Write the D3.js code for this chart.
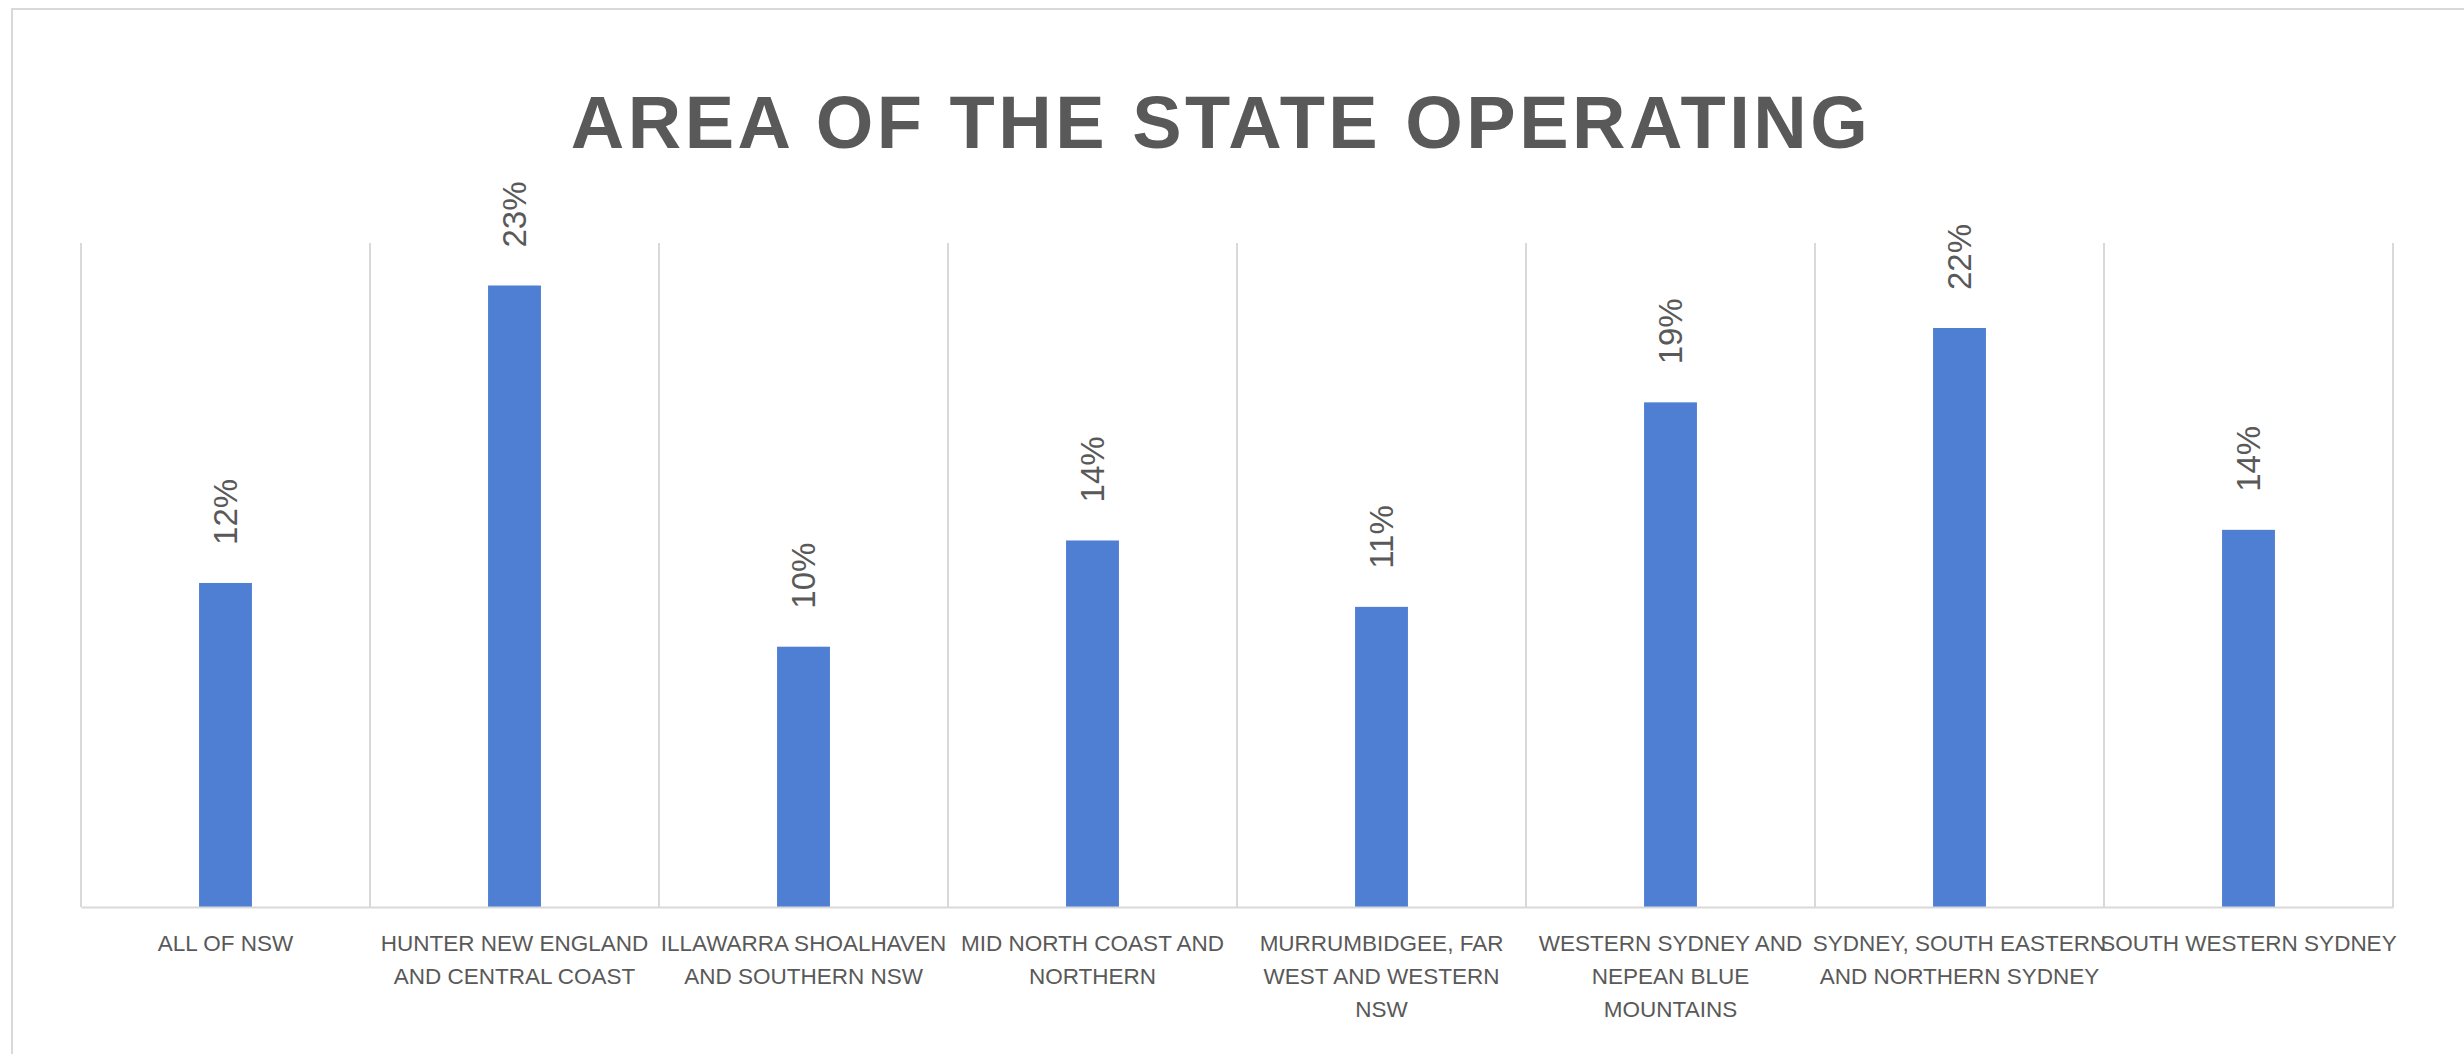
<!DOCTYPE html>
<html>
<head>
<meta charset="utf-8">
<script src="https://cdn.jsdelivr.net/npm/d3@7"></script>
<style>
  body { margin: 0; background: #fff; }
  text { font-family: "Liberation Sans", Arial, sans-serif; fill: #595959; }
</style>
</head>
<body>
<script>
// categories (line breaks as they wrap in the original)
var categorias = [
  'ALL OF NSW',
  'HUNTER NEW ENGLAND\nAND CENTRAL COAST',
  'ILLAWARRA SHOALHAVEN\nAND SOUTHERN NSW',
  'MID NORTH COAST AND\nNORTHERN',
  'MURRUMBIDGEE, FAR\nWEST AND WESTERN\nNSW',
  'WESTERN SYDNEY AND\nNEPEAN BLUE\nMOUNTAINS',
  'SYDNEY, SOUTH EASTERN\nAND NORTHERN SYDNEY',
  'SOUTH WESTERN SYDNEY'
]
var valores = [0.122, 0.234, 0.098, 0.138, 0.113, 0.190, 0.218, 0.142]
var titulo = 'AREA OF THE STATE OPERATING'

var width = 2464,
	height = 1054,
	margin = {top:243, left:81, right:71, bottom:147};

var svg = d3.select('body')
	.append('svg')
	.attr('width',width)
	.attr('height',height)

// chart frame
svg.append('rect')
	.attr('x',12)
	.attr('y',9)
	.attr('width',width)
	.attr('height',height)
	.attr('fill','none')
	.attr('stroke','#d9d9d9')
	.attr('stroke-width',2)

var escalaX = d3.scaleBand()
	.domain(categorias)
	.range([margin.left,width-margin.right])

var escalaY = d3.scaleLinear()
	.domain([0,0.25])
	.range([height-margin.bottom,margin.top])

// vertical category gridlines
var bordes = categorias.map(d=>escalaX(d)).concat([escalaX.range()[1]])
svg.append('g')
	.selectAll('line')
	.data(bordes).enter()
	.append('line')
	.attr('x1',d=>d)
	.attr('x2',d=>d)
	.attr('y1',escalaY.range()[1])
	.attr('y2',escalaY.range()[0])
	.attr('stroke','#d9d9d9')
	.attr('stroke-width',2)

// bars
var anchoBarra = escalaX.bandwidth()*0.183
svg.append('g')
	.selectAll('rect')
	.data(valores).enter()
	.append('rect')
	.attr('x',(d,i)=>escalaX(categorias[i])+escalaX.bandwidth()/2-anchoBarra/2)
	.attr('width',anchoBarra)
	.attr('y',d=>escalaY(d))
	.attr('height',d=>escalaY(0)-escalaY(d))
	.attr('fill','#4e7fd3')

// value labels, rotated
var fmt = d3.format('.0%')
svg.append('g')
	.selectAll('text')
	.data(valores).enter()
	.append('text')
	.attr('transform',(d,i)=>'translate('+(escalaX(categorias[i])+escalaX.bandwidth()/2)+','+(escalaY(d)-38)+') rotate(-90)')
	.attr('dy','0.36em')
	.attr('font-size',33)
	.text(d=>fmt(d))

// x axis
var ejeX = d3.axisBottom(escalaX).tickSize(0).tickSizeOuter(0)
var gx = svg.append('g')
	.attr('transform','translate(0,'+escalaY.range()[0]+')')
	.call(ejeX)
gx.select('.domain').attr('stroke','#d9d9d9').attr('stroke-width',2)
gx.selectAll('.tick text').each(function(d){
	var t = d3.select(this).text(null)
		.attr('y',44)
		.attr('dy',null)
		.attr('font-size',22.5)
		.attr('font-family',null)
		.attr('fill','#595959')
	d.split('\n').forEach((linea,j)=>{
		t.append('tspan').attr('x',0).attr('y',44+j*33).text(linea)
	})
})

// title
svg.append('text')
	.attr('x',1221)
	.attr('y',148)
	.attr('text-anchor','middle')
	.attr('font-size',74)
	.attr('font-weight','bold')
	.attr('letter-spacing',3.5)
	.text(titulo)
</script>
</body>
</html>
